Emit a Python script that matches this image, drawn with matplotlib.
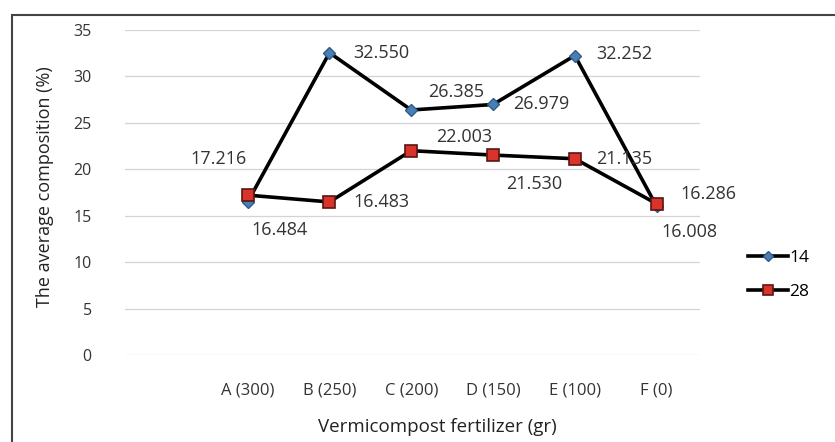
import numpy as np
import matplotlib
matplotlib.use('Agg')
import matplotlib.pyplot as plt
from matplotlib.patches import Rectangle

plt.rcParams['font.family'] = ['Open Sans', 'DejaVu Sans']

# data
categories = ['A (300)', 'B (250)', 'C (200)', 'D (150)', 'E (100)', 'F (0)']
series_names = ['14', '28']
vals_14 = [16.484, 32.550, 26.385, 26.979, 32.252, 16.008]
vals_28 = [17.216, 16.483, 22.003, 21.530, 21.135, 16.286]
yticks = [0, 5, 10, 15, 20, 25, 30, 35]

# label offsets in pixels (dx, dy, horizontal alignment)
offs_14 = [(32, -28, 'center'), (24, 0, 'left'), (45, 18, 'center'),
           (20, 0, 'left'), (21, 2, 'left'), (33, -26, 'center')]
offs_28 = [(-29, 36, 'center'), (24, 0, 'left'), (53, 14, 'center'),
           (41, -29, 'center'), (21, 0, 'left'), (24, 10, 'left')]

fig = plt.figure(figsize=(8.35, 4.42), dpi=100)
ax = fig.add_axes([125 / 835, 1 - 355 / 442, 575 / 835, 325 / 442])

x = np.arange(len(categories))
ax.set_xlim(-1.50, 5.53)
ax.set_ylim(0, 35)
ax.set_yticks(yticks)
for y in yticks:
    ax.axhline(y, color='#d4d4d4', lw=0.9, zorder=0)

l1, = ax.plot(x, vals_14, color='black', lw=2.6, marker='D', markersize=6.5,
              markerfacecolor='#4a7eb5', markeredgecolor='#2e5c8a', zorder=3)
l2, = ax.plot(x, vals_28, color='black', lw=2.6, marker='s', markersize=8.5,
              markerfacecolor='#d9342b', markeredgecolor='#5a1510',
              markeredgewidth=1.2, zorder=4)

for vals, offs in ((vals_14, offs_14), (vals_28, offs_28)):
    for xi, v, (dx, dy, ha) in zip(x, vals, offs):
        ax.annotate('%.3f' % v, (xi, v), xytext=(dx, dy),
                    textcoords='offset pixels', ha=ha, va='center',
                    fontsize=13, color='#333333')

ax.set_xticks(x)
ax.set_xticklabels(categories, fontsize=12, color='#333333')
ax.tick_params(axis='both', length=0)
ax.tick_params(axis='x', pad=20)
ax.tick_params(axis='y', pad=24, labelsize=11.5, labelcolor='#333333')
for s in ax.spines.values():
    s.set_visible(False)

fig.text(437 / 835, 1 - 427 / 442, 'Vermicompost fertilizer (gr)',
         ha='center', va='center', fontsize=13.5, color='#222222')
fig.text(45 / 835, 1 - 187 / 442, 'The average composition (%)',
         ha='center', va='center', rotation=90, fontsize=13, color='#222222')

fig.legend([l1, l2], series_names, loc='center left',
           bbox_to_anchor=(732 / 835, 1 - 275 / 442), frameon=False,
           fontsize=12.5, handlelength=2.3, handletextpad=0.1,
           labelspacing=1.0, markerscale=0.85)

# outer chart frame
fig.patches.append(Rectangle((12 / 835, -0.2), 1.2, 1.2 - 15 / 442,
                             transform=fig.transFigure, fill=False,
                             edgecolor='#444444', lw=1.5))

fig.savefig('out.png', dpi=100)
